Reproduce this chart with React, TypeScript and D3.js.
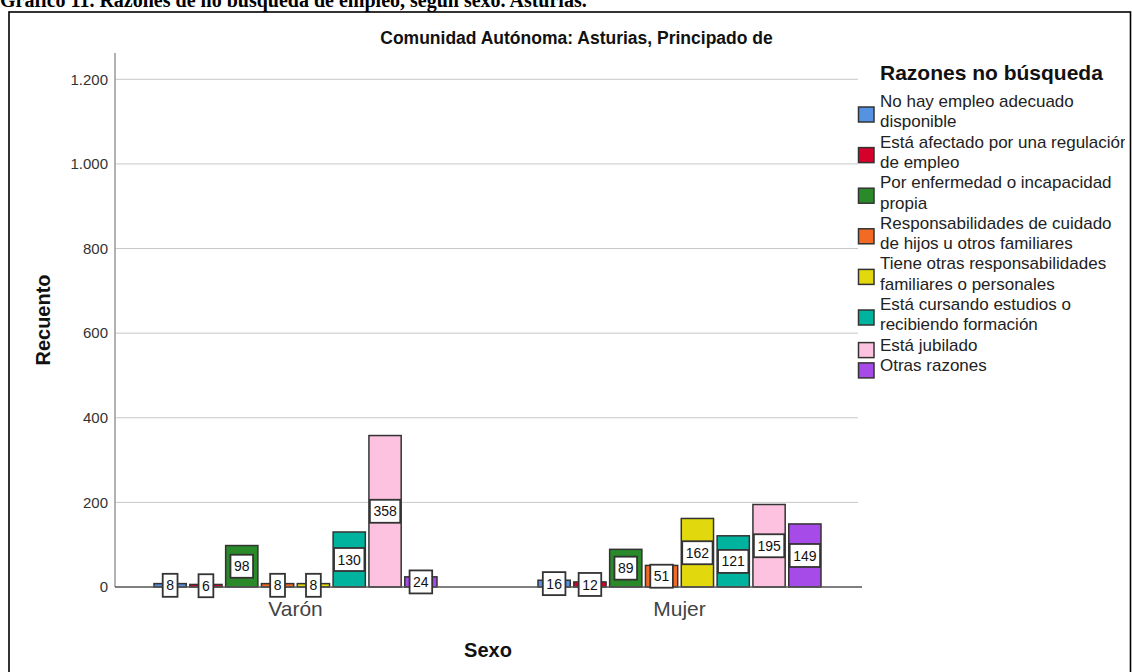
import React from "react";
import * as d3 from "d3";

const sexos = ["Varón", "Mujer"];
const razones = [
  "No hay empleo adecuado disponible",
  "Está afectado por una regulación de empleo",
  "Por enfermedad o incapacidad propia",
  "Responsabilidades de cuidado de hijos u otros familiares",
  "Tiene otras responsabilidades familiares o personales",
  "Está cursando estudios o recibiendo formación",
  "Está jubilado",
  "Otras razones",
];
const legendLines = [
  ["No hay empleo adecuado", "disponible"],
  ["Está afectado por una regulación", "de empleo"],
  ["Por enfermedad o incapacidad", "propia"],
  ["Responsabilidades de cuidado", "de hijos u otros familiares"],
  ["Tiene otras responsabilidades", "familiares o personales"],
  ["Está cursando estudios o", "recibiendo formación"],
  ["Está jubilado"],
  ["Otras razones"],
];
const colores = ["#5592e2", "#d6002c", "#2a8a2a", "#f26a24", "#e2d80e", "#00b39f", "#fdc2df", "#a64ae8"];
const valoresVaron = [8, 6, 98, 8, 8, 130, 358, 24];
const valoresMujer = [16, 12, 89, 51, 162, 121, 195, 149];
const yTicks = [0, 200, 400, 600, 800, 1000, 1200];

const FONT = "'Liberation Sans', Arial, Helvetica, sans-serif";

export default function App() {
  const W = 1132, H = 672;
  const plotL = 115, plotR = 858;
  const y = d3.scaleLinear().domain([0, 1200]).range([587, 79.3]);
  const x0 = d3.scaleBand().domain(sexos).range([103.5, 871.5]).padding(0);
  const x1 = d3.scaleBand().domain(razones).range([-141.5, 141.5]).paddingInner(0.1).paddingOuter(0);
  const loc = d3.formatLocale({ decimal: ",", thousands: ".", grouping: [3], currency: ["", ""] });
  const fmt = loc.format(",d");
  const data = [valoresVaron, valoresMujer];

  const lineH = 20.3;
  const firstBase = 107;
  let lineIdx = 0;
  const legendItems = legendLines.map((lines, i) => {
    const base = firstBase + lineIdx * lineH;
    lineIdx += lines.length;
    return { lines, base, i };
  });

  return (
    <svg width={W} height={H} style={{ position: "absolute", left: 0, top: 0, display: "block", background: "#fff" }}>
      <defs>
        <clipPath id="legclip">
          <rect x={0} y={0} width={1125} height={H} />
        </clipPath>
      </defs>
      <rect x={0} y={0} width={W} height={H} fill="#fff" />
      <text x={0} y={6.5} fontFamily="'Liberation Serif', 'Times New Roman', serif" fontWeight="bold" fontSize={20} fill="#000">
        Gráfico 11. Razones de no búsqueda de empleo, según sexo. Asturias.
      </text>
      <rect x={9} y={12} width={1121.5} height={700} fill="none" stroke="#000" strokeWidth={1.6} />

      <text x={576.5} y={44} textAnchor="middle" fontFamily={FONT} fontWeight="bold" fontSize={17.5} fill="#111">
        Comunidad Autónoma: Asturias, Principado de
      </text>

      {yTicks.map((t) => (
        <g key={t}>
          {t > 0 && <line x1={plotL} x2={plotR} y1={y(t)} y2={y(t)} stroke="#c8c8c8" strokeWidth={1} />}
          <text x={108} y={y(t)} dy="0.35em" textAnchor="end" fontFamily={FONT} fontSize={15} fill="#333">
            {fmt(t)}
          </text>
        </g>
      ))}
      <line x1={plotL} x2={plotL} y1={53} y2={y(0)} stroke="#999" strokeWidth={1.5} />

      {sexos.map((s, si) => (
        <g key={s} transform={`translate(${x0(s)! + x0.bandwidth() / 2},0)`}>
          {razones.map((r, ri) => (
            <rect
              key={r}
              x={x1(r)!}
              y={y(data[si][ri])}
              width={x1.bandwidth()}
              height={y(0) - y(data[si][ri])}
              fill={colores[ri]}
              stroke="#333"
              strokeWidth={1.5}
            />
          ))}
        </g>
      ))}
      <line x1={plotL} x2={862} y1={y(0)} y2={y(0)} stroke="#555" strokeWidth={1.3} />

      {sexos.map((s, si) => (
        <g key={s + "l"} transform={`translate(${x0(s)! + x0.bandwidth() / 2},0)`}>
          {razones.map((r, ri) => {
            const v = data[si][ri];
            const label = String(v);
            const bw = label.length * 7.8 + 7;
            const cy = (y(0) + y(v)) / 2;
            const cx = x1(r)! + x1.bandwidth() / 2;
            return (
              <g key={r}>
                <rect x={cx - bw / 2} y={cy - 11.5} width={bw} height={23} fill="#fff" stroke="#333" strokeWidth={1.8} />
                <text x={cx} y={cy} dy="0.36em" textAnchor="middle" fontFamily={FONT} fontSize={14} fill="#111">
                  {label}
                </text>
              </g>
            );
          })}
          <text x={0} y={616} textAnchor="middle" fontFamily={FONT} fontSize={21} fill="#444">
            {s}
          </text>
        </g>
      ))}

      <text transform="translate(50,320) rotate(-90)" textAnchor="middle" fontFamily={FONT} fontWeight="bold" fontSize={20} fill="#111">
        Recuento
      </text>
      <text x={488} y={657} textAnchor="middle" fontFamily={FONT} fontWeight="bold" fontSize={20} fill="#111">
        Sexo
      </text>

      <text x={880} y={80} fontFamily={FONT} fontWeight="bold" fontSize={21} fill="#111">
        Razones no búsqueda
      </text>
      <g clipPath="url(#legclip)">
        {legendItems.map(({ lines, base, i }) => (
          <g key={i}>
            <rect
              x={858.5}
              y={lines.length > 1 ? base : base - 8}
              width={15.5}
              height={15}
              fill={colores[i]}
              stroke="#333"
              strokeWidth={1.5}
            />
            {lines.map((ln, li) => (
              <text key={li} x={880} y={base + li * lineH} fontFamily={FONT} fontSize={17} fill="#222">
                {ln}
              </text>
            ))}
          </g>
        ))}
      </g>
    </svg>
  );
}
